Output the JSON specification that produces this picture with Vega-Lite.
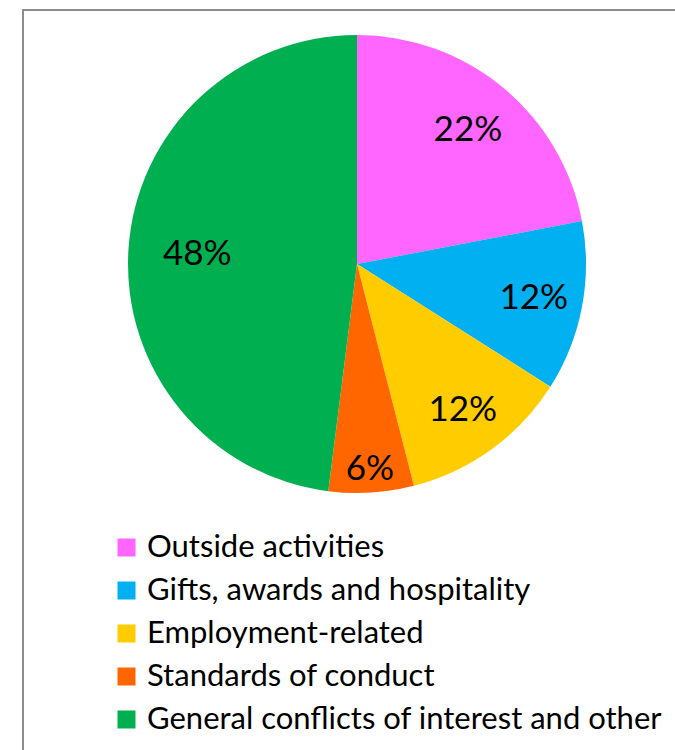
{
  "$schema": "https://vega.github.io/schema/vega-lite/v6.json",
  "width": 668,
  "height": 760,
  "autosize": "none",
  "padding": {"left": 23, "top": 10, "right": -16, "bottom": -20},
  "background": "white",
  "config": {
    "view": {"stroke": "#8c8c8c", "strokeWidth": 2},
    "font": "Lato"
  },
  "data": {
    "values": [
      {"rank": 1, "category": "Outside activities", "pct": 22, "label": "22%"},
      {"rank": 2, "category": "Gifts, awards and hospitality", "pct": 12, "label": "12%"},
      {"rank": 3, "category": "Employment-related", "pct": 12, "label": "12%"},
      {"rank": 4, "category": "Standards of conduct", "pct": 6, "label": "6%"},
      {"rank": 5, "category": "General conflicts of interest and other", "pct": 48, "label": "48%"}
    ]
  },
  "encoding": {
    "theta": {"field": "pct", "type": "quantitative", "stack": true},
    "order": {"field": "rank", "type": "quantitative", "sort": "ascending"},
    "y": {"value": 254}
  },
  "layer": [
    {
      "mark": {"type": "arc", "outerRadius": 229},
      "encoding": {
        "color": {
          "field": "category",
          "type": "nominal",
          "sort": null,
          "scale": {
            "domain": ["Outside activities", "Gifts, awards and hospitality", "Employment-related", "Standards of conduct", "General conflicts of interest and other"],
            "range": ["#ff66ff", "#00b0f0", "#ffcc00", "#ff6600", "#00b050"]
          },
          "legend": {
            "title": null,
            "orient": "none",
            "legendX": 88,
            "legendY": 522,
            "symbolType": "square",
            "symbolSize": 324,
            "symbolStrokeWidth": 0,
            "symbolOpacity": 1,
            "labelFont": "Lato",
            "labelFontSize": 31,
            "labelColor": "black",
            "labelOffset": 5,
            "labelLimit": 700,
            "rowPadding": 11,
            "padding": 0
          }
        }
      }
    },
    {
      "mark": {"type": "text", "fontSize": 35, "font": "Lato", "color": "black", "align": "center", "baseline": "middle"},
      "encoding": {
        "text": {"field": "label"},
        "radius": {
          "field": "pct",
          "type": "quantitative",
          "scale": {"type": "linear", "zero": false, "nice": false, "clamp": true, "domain": [6, 12, 22, 48], "range": [205, 180, 174, 160]}
        }
      }
    }
  ]
}
